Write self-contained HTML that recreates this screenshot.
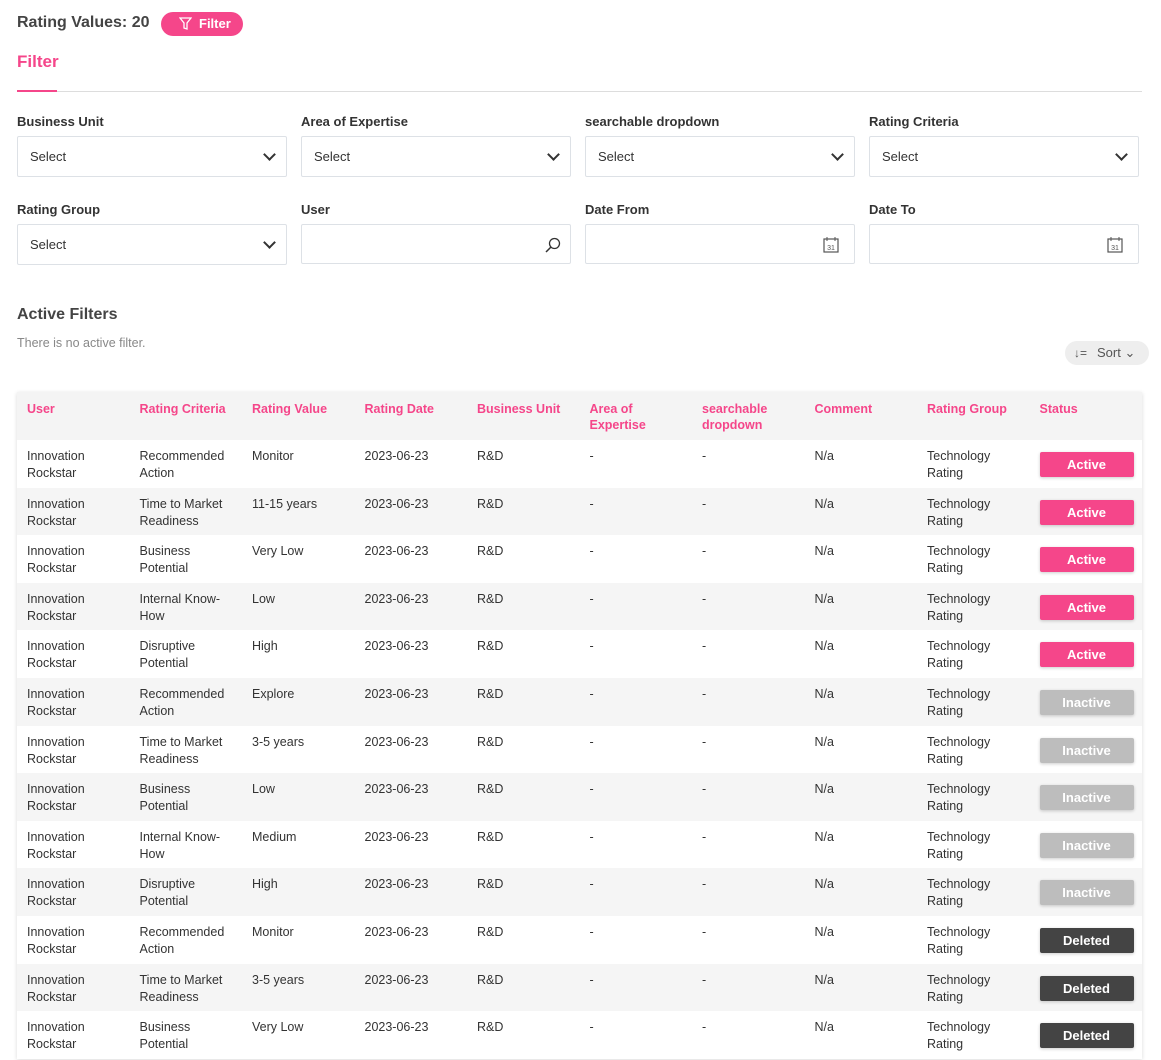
<!DOCTYPE html>
<html><head><meta charset="utf-8"><style>
*{box-sizing:border-box;margin:0;padding:0}
body{width:1161px;height:1060px;overflow:hidden;background:#fff;font-family:"Liberation Sans",sans-serif;color:#333;position:relative}
.abs{position:absolute}
.lbl{font-size:13px;font-weight:bold;color:#333}
.inp{position:absolute;height:41px;width:270px;border:1px solid #dde1e6;border-radius:2px;font-size:13px;padding:12px 12px;color:#333}
.chev{position:absolute;right:12px;top:13px;width:9px;height:9px;border-right:2px solid #333;border-bottom:2px solid #333;transform:rotate(45deg)}
.tbl{position:absolute;left:17px;top:392px;width:1125px;font-size:12.5px;box-shadow:0 1px 4px rgba(0,0,0,.15)}
.row{display:flex;height:47.6px;overflow:hidden}
.row>div{width:112.5px;padding:8px 10px 0;line-height:17px;flex:none}
.hd{background:#f4f4f4;height:48px}
.hd>div{color:#f5468a;font-weight:bold;line-height:16px;padding-top:9px}
.row.g{background:#f5f5f5}
.st{display:block;width:94px;height:25px;margin-top:4px;border-radius:2px;color:#fff;font-weight:bold;text-align:center;line-height:25px;font-size:13px;box-shadow:0 1px 3px rgba(0,0,0,.2)}
.a{background:#f5468a}.i{background:#bdbdbd}.d{background:#444}
</style></head><body>
<div class="abs" style="left:17px;top:14px;font-size:16px;font-weight:bold;color:#444">Rating Values: 20</div>
<div class="abs" style="left:161px;top:12px;width:82px;height:24px;border-radius:12px;background:#f5468a;color:#fff;font-size:13px;font-weight:bold;line-height:24px;padding-left:38px">Filter
<svg class="abs" style="left:18px;top:5px" width="13" height="14" viewBox="0 0 13 14"><path d="M1 1h11L8 6v6l-3-1V6z" fill="none" stroke="#fff" stroke-width="1.3"/></svg></div>
<div class="abs" style="left:17px;top:52px;font-size:17px;font-weight:bold;color:#f5468a">Filter</div>
<div class="abs" style="left:17px;top:91px;width:1125px;height:1px;background:#ddd"></div>
<div class="abs" style="left:17px;top:90px;width:40px;height:2px;background:#f5468a"></div>

<div class="abs lbl" style="left:17px;top:114px">Business Unit</div>
<div class="abs lbl" style="left:301px;top:114px">Area of Expertise</div>
<div class="abs lbl" style="left:585px;top:114px">searchable dropdown</div>
<div class="abs lbl" style="left:869px;top:114px">Rating Criteria</div>
<div class="inp" style="left:17px;top:136px">Select<span class="chev"></span></div>
<div class="inp" style="left:301px;top:136px">Select<span class="chev"></span></div>
<div class="inp" style="left:585px;top:136px">Select<span class="chev"></span></div>
<div class="inp" style="left:869px;top:136px">Select<span class="chev"></span></div>

<div class="abs lbl" style="left:17px;top:202px">Rating Group</div>
<div class="abs lbl" style="left:301px;top:202px">User</div>
<div class="abs lbl" style="left:585px;top:202px">Date From</div>
<div class="abs lbl" style="left:869px;top:202px">Date To</div>
<div class="inp" style="left:17px;top:224px">Select<span class="chev"></span></div>
<div class="inp" style="left:301px;top:224px;height:40px"><svg class="abs" style="right:8px;top:11px" width="18" height="18" viewBox="0 0 18 18"><circle cx="10.5" cy="7.5" r="5" fill="none" stroke="#333" stroke-width="1.3"/><path d="M7 11l-5 5" stroke="#333" stroke-width="1.5"/></svg></div>
<div class="inp" style="left:585px;top:224px;height:40px"><svg class="abs" style="right:15px;top:11px" width="16" height="17" viewBox="0 0 16 17"><rect x="1" y="3" width="14" height="13" fill="none" stroke="#555" stroke-width="1.2"/><path d="M4 1v4M12 1v4" stroke="#555"/><text x="8" y="14" font-size="7" text-anchor="middle" fill="#555" font-family="Liberation Sans">31</text></svg></div>
<div class="inp" style="left:869px;top:224px;height:40px"><svg class="abs" style="right:15px;top:11px" width="16" height="17" viewBox="0 0 16 17"><rect x="1" y="3" width="14" height="13" fill="none" stroke="#555" stroke-width="1.2"/><path d="M4 1v4M12 1v4" stroke="#555"/><text x="8" y="14" font-size="7" text-anchor="middle" fill="#555" font-family="Liberation Sans">31</text></svg></div>

<div class="abs" style="left:17px;top:306px;font-size:16px;font-weight:bold;color:#444">Active Filters</div>
<div class="abs" style="left:17px;top:336px;font-size:12.5px;color:#888">There is no active filter.</div>
<div class="abs" style="left:1065px;top:341px;width:84px;height:24px;border-radius:12px;background:#eee;font-size:13px;color:#555;line-height:24px;padding-left:32px">Sort ⌄
<span class="abs" style="left:9px;top:0;font-size:12px">↓=</span></div>

<div class="tbl">
<div class="row hd"><div>User</div><div>Rating Criteria</div><div>Rating Value</div><div>Rating Date</div><div>Business Unit</div><div>Area of Expertise</div><div>searchable dropdown</div><div>Comment</div><div>Rating Group</div><div>Status</div></div>
<div class="row"><div>Innovation Rockstar</div><div>Recommended Action</div><div>Monitor</div><div>2023-06-23</div><div>R&amp;D</div><div>-</div><div>-</div><div>N/a</div><div>Technology Rating</div><div><span class="st a">Active</span></div></div>
<div class="row g"><div>Innovation Rockstar</div><div>Time to Market Readiness</div><div>11-15 years</div><div>2023-06-23</div><div>R&amp;D</div><div>-</div><div>-</div><div>N/a</div><div>Technology Rating</div><div><span class="st a">Active</span></div></div>
<div class="row"><div>Innovation Rockstar</div><div>Business Potential</div><div>Very Low</div><div>2023-06-23</div><div>R&amp;D</div><div>-</div><div>-</div><div>N/a</div><div>Technology Rating</div><div><span class="st a">Active</span></div></div>
<div class="row g"><div>Innovation Rockstar</div><div>Internal Know-How</div><div>Low</div><div>2023-06-23</div><div>R&amp;D</div><div>-</div><div>-</div><div>N/a</div><div>Technology Rating</div><div><span class="st a">Active</span></div></div>
<div class="row"><div>Innovation Rockstar</div><div>Disruptive Potential</div><div>High</div><div>2023-06-23</div><div>R&amp;D</div><div>-</div><div>-</div><div>N/a</div><div>Technology Rating</div><div><span class="st a">Active</span></div></div>
<div class="row g"><div>Innovation Rockstar</div><div>Recommended Action</div><div>Explore</div><div>2023-06-23</div><div>R&amp;D</div><div>-</div><div>-</div><div>N/a</div><div>Technology Rating</div><div><span class="st i">Inactive</span></div></div>
<div class="row"><div>Innovation Rockstar</div><div>Time to Market Readiness</div><div>3-5 years</div><div>2023-06-23</div><div>R&amp;D</div><div>-</div><div>-</div><div>N/a</div><div>Technology Rating</div><div><span class="st i">Inactive</span></div></div>
<div class="row g"><div>Innovation Rockstar</div><div>Business Potential</div><div>Low</div><div>2023-06-23</div><div>R&amp;D</div><div>-</div><div>-</div><div>N/a</div><div>Technology Rating</div><div><span class="st i">Inactive</span></div></div>
<div class="row"><div>Innovation Rockstar</div><div>Internal Know-How</div><div>Medium</div><div>2023-06-23</div><div>R&amp;D</div><div>-</div><div>-</div><div>N/a</div><div>Technology Rating</div><div><span class="st i">Inactive</span></div></div>
<div class="row g"><div>Innovation Rockstar</div><div>Disruptive Potential</div><div>High</div><div>2023-06-23</div><div>R&amp;D</div><div>-</div><div>-</div><div>N/a</div><div>Technology Rating</div><div><span class="st i">Inactive</span></div></div>
<div class="row"><div>Innovation Rockstar</div><div>Recommended Action</div><div>Monitor</div><div>2023-06-23</div><div>R&amp;D</div><div>-</div><div>-</div><div>N/a</div><div>Technology Rating</div><div><span class="st d">Deleted</span></div></div>
<div class="row g"><div>Innovation Rockstar</div><div>Time to Market Readiness</div><div>3-5 years</div><div>2023-06-23</div><div>R&amp;D</div><div>-</div><div>-</div><div>N/a</div><div>Technology Rating</div><div><span class="st d">Deleted</span></div></div>
<div class="row"><div>Innovation Rockstar</div><div>Business Potential</div><div>Very Low</div><div>2023-06-23</div><div>R&amp;D</div><div>-</div><div>-</div><div>N/a</div><div>Technology Rating</div><div><span class="st d">Deleted</span></div></div>
</div>
</body></html>
